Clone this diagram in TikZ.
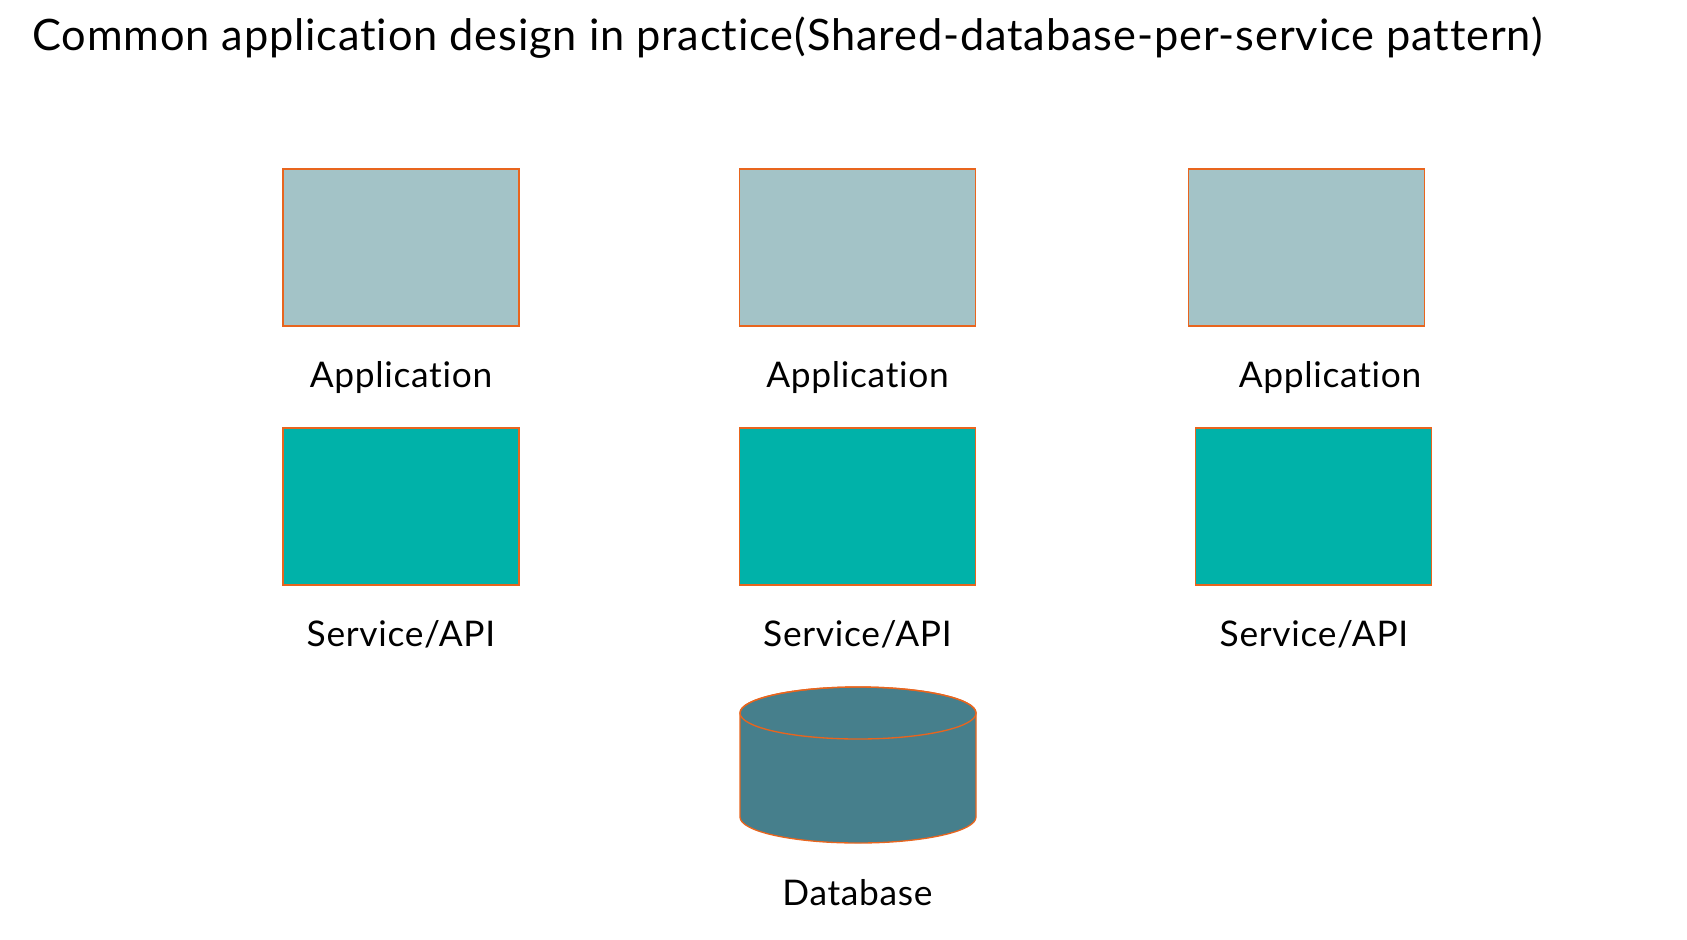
\documentclass[tikz,border=0pt]{standalone}
\usepackage{fontspec}
\setmainfont{Lato}[Ligatures=NoCommon, LetterSpace=2]
\usepackage{xcolor}
\usetikzlibrary{positioning}

\definecolor{appfill}{HTML}{A3C3C7}
\definecolor{svcfill}{HTML}{00B2A9}
\definecolor{dbfill}{HTML}{467F8C}
\definecolor{edge}{HTML}{E8651E}

\tikzset{
  box/.style={draw=edge, line width=1pt, minimum width=177pt, minimum height=117.75pt, inner sep=0pt},
  appbox/.style={box, fill=appfill},
  svcbox/.style={box, fill=svcfill},
  caption/.style={font=\fontsize{26.5}{30}\selectfont, inner sep=0pt}
}

\begin{document}
\begin{tikzpicture}[x=0.75pt,y=-0.75pt]
\useasboundingbox (0,0) rectangle (1687,939);

\node[anchor=west, font=\fontsize{32.5}{38}\selectfont, inner sep=0pt] (title) at (32,38)
  {Common application design in practice(Shared-database-per-service pattern)};

% applications
\node[appbox] (app1) at (401,247.5) {};
\node[appbox] (app2) at (857.5,247.5) {};
\node[appbox] (app3) at (1306.5,247.5) {};
\node[caption] (lapp1) at (401,378) {Application};
\node[caption] (lapp2) at (857.5,378) {Application};
\node[caption] (lapp3) at (1330,378) {Application};

% services
\node[svcbox] (svc1) at (401,506.5) {};
\node[svcbox] (svc2) at (857.5,506.5) {};
\node[svcbox] (svc3) at (1313.5,506.5) {};
\node[caption] (lsvc1) at (401,634) {Service/API};
\node[caption] (lsvc2) at (857.5,634) {Service/API};
\node[caption] (lsvc3) at (1314,634) {Service/API};

% database
\coordinate (db) at (858,713);
\filldraw[fill=dbfill, draw=edge, line width=1pt]
  (740,713) -- (740,817) arc (180:0:118 and 26) -- (976,713) arc (0:-180:118 and 26) -- cycle;
\draw[edge, line width=1pt] (db) ellipse (118 and 26);
\node[caption] (ldb) at (857.5,893) {Database};
\end{tikzpicture}
\end{document}
